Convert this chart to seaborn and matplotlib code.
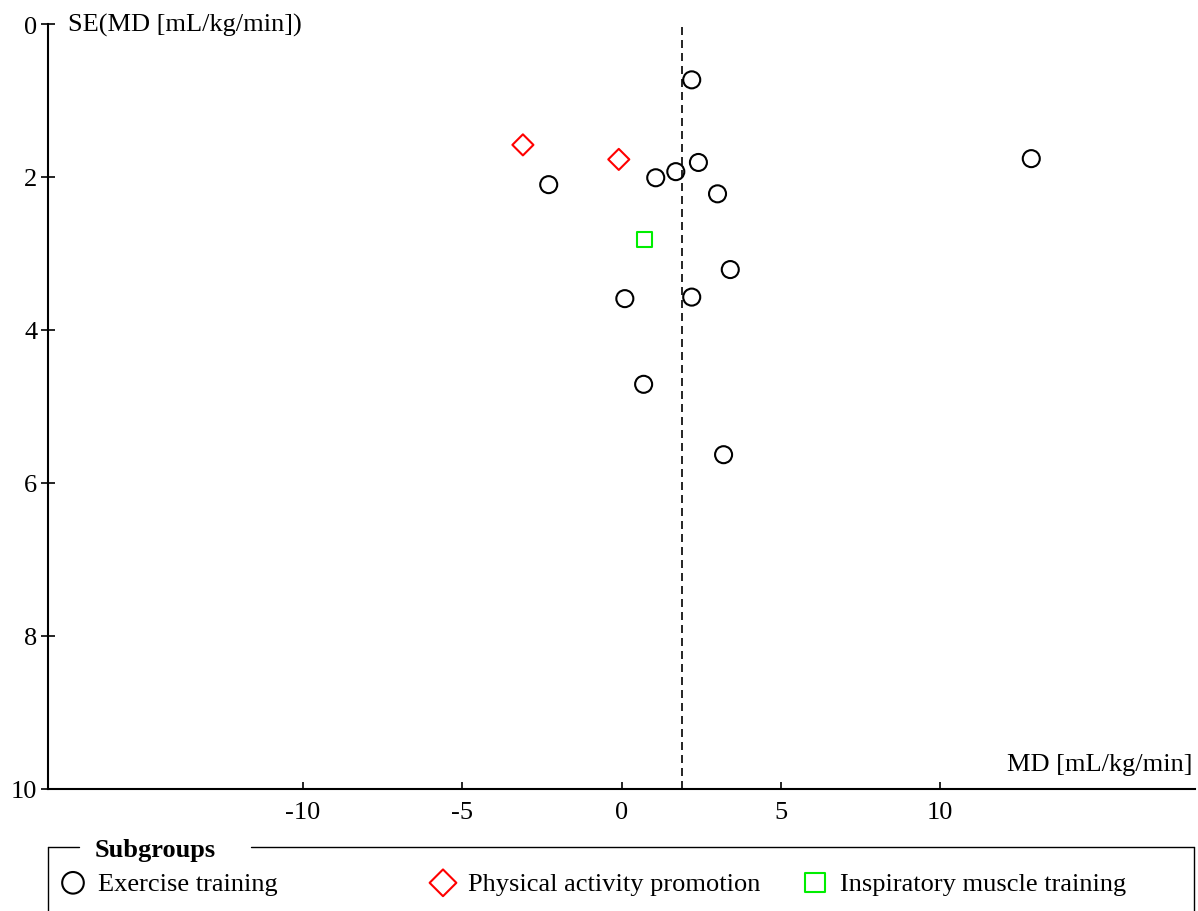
import matplotlib
matplotlib.use("Agg")
import matplotlib.pyplot as plt
import pandas as pd
import seaborn as sns
from matplotlib.lines import Line2D

# study estimates
exercise_md = [2.20, 2.41, 1.70, 1.07, -2.29, 3.01, 12.86, 3.41, 2.20, 0.10, 0.69, 3.20]
exercise_se = [0.73, 1.81, 1.93, 2.01, 2.10, 2.22, 1.76, 3.21, 3.57, 3.59, 4.71, 5.63]
activity_md = [-3.10, -0.09]
activity_se = [1.58, 1.77]
imt_md = [0.71]
imt_se = [2.82]
pooled_md = 1.89

groups = ["Exercise training", "Physical activity promotion", "Inspiratory muscle training"]

df = pd.DataFrame({
    "md": exercise_md + activity_md + imt_md,
    "se": exercise_se + activity_se + imt_se,
    "group": [groups[0]] * len(exercise_md) + [groups[1]] * len(activity_md) + [groups[2]] * len(imt_md),
})

sns.set_style("ticks")
plt.rcParams["font.family"] = ["Liberation Serif", "DejaVu Serif"]
plt.rcParams["font.size"] = 19
plt.rcParams["axes.linewidth"] = 1.5
plt.rcParams["axes.unicode_minus"] = False
plt.rcParams["text.color"] = "black"
plt.rcParams["axes.labelcolor"] = "black"
plt.rcParams["axes.edgecolor"] = "black"

W, H = 1198, 912
fig = plt.figure(figsize=(W / 100, H / 100), dpi=100)
ax = fig.add_axes([48.3 / W, 1 - 790 / H, (1195 - 48.3) / W, (790 - 25) / H])

styles = {
    groups[0]: ("o", "black", 150),
    groups[1]: ("D", "red", 115),
    groups[2]: ("s", "#00ee00", 118),
}

for g in groups:
    m, c, s = styles[g]
    sub = df[df["group"] == g]
    sns.scatterplot(data=sub, x="md", y="se", marker=m, s=s, color=c,
                    facecolor="none", edgecolor=c, linewidth=1.5,
                    label=g, ax=ax, legend=False, zorder=3)

ax.axvline(pooled_md, color="black", lw=1.2, dashes=(4.8, 3), zorder=2)

ax.set_xlim(-18, 18)
ax.set_ylim(10, 0)
ax.set_xticks([-10, -5, 0, 5, 10])
ax.set_yticks([0, 2, 4, 6, 8, 10])
sns.despine(ax=ax)
ax.tick_params(axis="x", direction="in", length=5, width=1.2, pad=9, labelsize=19, colors="black")
ax.tick_params(axis="y", direction="inout", length=10, width=1.2, pad=3, labelsize=19, colors="black")

ax.set_ylabel("SE(MD [mL/kg/min])", rotation=0, ha="left", va="center", fontsize=19)
ax.yaxis.set_label_coords(0.0172, 1.0)
ax.set_xlabel("MD [mL/kg/min]", ha="right", va="center", fontsize=19)
ax.xaxis.set_label_coords(0.998, 0.0327)

handles, labels = ax.get_legend_handles_labels()
if ax.get_legend() is not None:
    ax.get_legend().remove()

# legend box with title sitting in the top border
lc = "black"
fig.add_artist(Line2D([48.3 / W, 48.3 / W], [1 - 848 / H, -0.01], color=lc, lw=1.0, transform=fig.transFigure))
fig.add_artist(Line2D([1194 / W, 1194 / W], [1 - 848 / H, -0.01], color=lc, lw=1.0, transform=fig.transFigure))
fig.add_artist(Line2D([48.3 / W, 78.5 / W], [1 - 848 / H, 1 - 848 / H], color=lc, lw=1.0, transform=fig.transFigure))
fig.add_artist(Line2D([250.5 / W, 1194 / W], [1 - 848 / H, 1 - 848 / H], color=lc, lw=1.0, transform=fig.transFigure))
fig.text(94.3 / W, 1 - 857 / H, "Subgroups", fontsize=19, fontweight="bold", ha="left", va="baseline")

marker_x = [73, 443, 815]
for h, lab, mx in zip(handles, labels, marker_x):
    fig.legend(handles=[h], labels=[lab], loc="center left",
               bbox_to_anchor=((mx - 13.2) / W, 1 - 884 / H),
               frameon=False, borderpad=0, borderaxespad=0, markerscale=1.27,
               handlelength=1.0, handletextpad=0.45, scatterpoints=1, fontsize=19)

fig.savefig("out.png", dpi=100)
